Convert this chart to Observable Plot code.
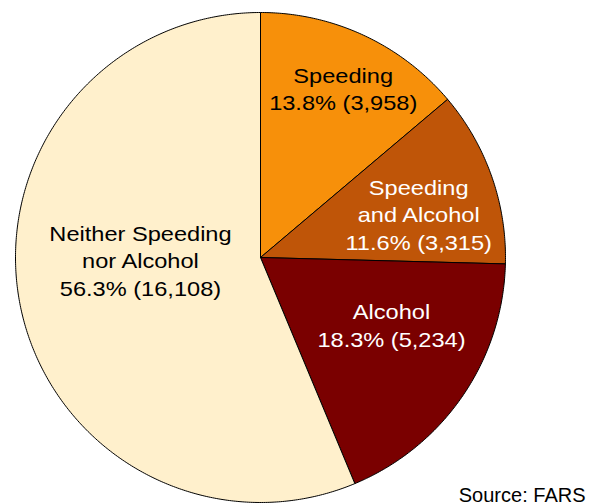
<!DOCTYPE html>
<html><head><meta charset="utf-8">
<script src="https://cdn.jsdelivr.net/npm/d3@7"></script>
<script src="https://cdn.jsdelivr.net/npm/@observablehq/plot@0.6"></script>
<style>body{margin:0;background:#fff}</style>
</head><body><div id="chart"></div>
<script>
// Data
const categories = ["Speeding", "Speeding and Alcohol", "Alcohol", "Neither Speeding nor Alcohol"];
const percents = [13.8, 11.6, 18.3, 56.3];
const counts = [3958, 3315, 5234, 16108];
const labelLines = [["Speeding"], ["Speeding", "and Alcohol"], ["Alcohol"], ["Neither Speeding", "nor Alcohol"]];
const sourceNote = "Source: FARS";

// Style / layout
const colors = ["#F7900A", "#BF5508", "#7A0000", "#FFF0CC"];
const textColors = ["#000", "#fff", "#fff", "#000"];
const labelPlace = [[26, 0.77], [74.5, 0.67], [117, 0.6], [269, 0.49]]; // [angle deg from top, radius fraction]
const W = 589, H = 504, R = 245, CX = 260, CY = 257;
const LABEL_STRETCH = 1.18;

const total = d3.sum(counts);
const fmt = d3.format(",");
let cum = 0;
const slicePts = [];
categories.forEach((c, i) => {
  const a0 = cum / total * 2 * Math.PI;
  cum += counts[i];
  const a1 = cum / total * 2 * Math.PI;
  const n = Math.max(2, Math.ceil((a1 - a0) / (Math.PI / 360)));
  slicePts.push({cat: c, x: 0, y: 0});
  for (let k = 0; k <= n; k++) {
    const a = a0 + (a1 - a0) * k / n;
    slicePts.push({cat: c, x: Math.sin(a), y: Math.cos(a)});
  }
  slicePts.push({cat: c, x: 0, y: 0});
});

const labels = categories.map((c, i) => {
  const a = labelPlace[i][0] * Math.PI / 180, r = labelPlace[i][1];
  return {
    cat: c,
    x: r * Math.sin(a), y: r * Math.cos(a),
    text: [...labelLines[i], `${percents[i].toFixed(1)}% (${fmt(counts[i])})`].join("\n"),
    tc: textColors[i]
  };
});

const chart = Plot.plot({
  width: W, height: H,
  margin: 0,
  x: {domain: [-CX / R, (W - CX) / R], range: [0, W], axis: null},
  y: {domain: [-(H - CY) / R, CY / R], range: [H, 0], axis: null},
  color: {domain: categories, range: colors},
  style: {fontFamily: "'Liberation Sans', Arial, sans-serif", background: "#fff"},
  marks: [
    Plot.line(slicePts, {x: "x", y: "y", z: "cat", fill: "cat", stroke: "#000", strokeWidth: 1, curve: "linear"}),
    ...labels.map(l => Plot.text([l], {x: "x", y: "y", text: "text", fill: l.tc, fontSize: 20, lineHeight: 1.375, lineAnchor: "middle", textAnchor: "middle"})),
    Plot.text([sourceNote], {frameAnchor: "bottom-right", text: d => d, textAnchor: "end", lineAnchor: "bottom", fontSize: 20, fill: "#000", dx: -4, dy: -3})
  ]
});
// widen the slice labels horizontally, as in the reference
chart.querySelectorAll("text").forEach(t => {
  if (t.textContent === sourceNote) return;
  const tr = t.getAttribute("transform") || "";
  t.setAttribute("transform", tr + ` scale(${LABEL_STRETCH},1)`);
});
document.getElementById("chart").appendChild(chart);
</script>
</body></html>
